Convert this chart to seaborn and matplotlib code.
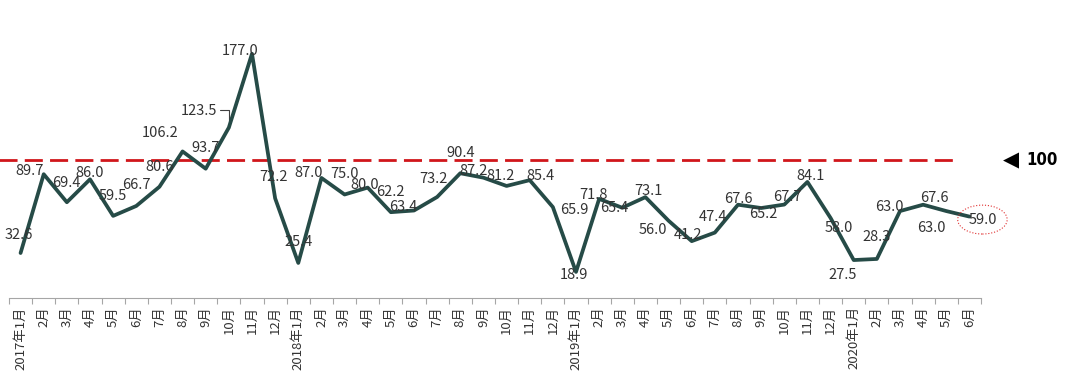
import matplotlib
matplotlib.use("Agg")
import matplotlib.pyplot as plt
import seaborn as sns
import pandas as pd
import numpy as np

# ---- data ----
months = ["2017年1月", "2月", "3月", "4月", "5月", "6月", "7月", "8月", "9月", "10月", "11月", "12月",
          "2018年1月", "2月", "3月", "4月", "5月", "6月", "7月", "8月", "9月", "10月", "11月", "12月",
          "2019年1月", "2月", "3月", "4月", "5月", "6月", "7月", "8月", "9月", "10月", "11月", "12月",
          "2020年1月", "2月", "3月", "4月", "5月", "6月"]
values = [32.6, 89.7, 69.4, 86.0, 59.5, 66.7, 80.6, 106.2, 93.7, 123.5, 177.0, 72.2,
          25.4, 87.0, 75.0, 80.0, 62.2, 63.4, 73.2, 90.4, 87.2, 81.2, 85.4, 65.9,
          18.9, 71.8, 65.4, 73.1, 56.0, 41.2, 47.4, 67.6, 65.2, 67.7, 84.1, 58.0,
          27.5, 28.3, 63.0, 67.6, 63.0, 59.0]
reference_level = 100
reference_label = "100"

# label offsets in pixels (dx, dy with image-down positive)
label_offsets = [(-2, -18), (-14, -3), (0, -19), (0, -6), (0, -20), (0, -21), (0, -20), (-22, -18),
                 (0, -21), (-30, -17), (-12, -3), (-2, -21), (0, -21), (-13, -5), (0, -21), (-3, -3),
                 (0, -20), (-11, -4), (-4, -18), (0, -20), (-10, -7), (-6, -10), (11, -4), (21, 3),
                 (-2, 3), (-6, -4), (-8, 0), (3, -6), (-16, 9), (-4, -6), (-2, -16), (0, -6),
                 (2, 6), (3, -8), (3, -6), (8, 10), (-11, 15), (0, -22), (-11, -4), (11, -7),
                 (-15, 17), (13, 3)]

sns.set_style("white")
plt.rcParams['font.family'] = ['Noto Sans CJK SC', 'DejaVu Sans']

df = pd.DataFrame({"idx": np.arange(len(values)), "value": values})

fig = plt.figure(figsize=(10.8, 3.78), dpi=100)
left = 9 / 1080
right = 981 / 1080
bottom = (378 - 298) / 378
top = (378 - 22) / 378
ax = fig.add_axes([left, bottom, right - left, top - bottom])

line_color = "#264B47"
sns.lineplot(data=df, x="idx", y="value", ax=ax, color=line_color, linewidth=2.7, zorder=3)

ax.set_xlim(-0.5, len(values) - 0.5)
ax.set_ylim(0, 200)

# reference dashed line
ax.plot([-0.012, 0.975], [reference_level, reference_level], transform=ax.get_yaxis_transform(),
        color="#D0161B", linewidth=2.0, dashes=(6.5, 2.6), clip_on=False, zorder=2)
ax.text(1.023, reference_level, "◀", transform=ax.get_yaxis_transform(), ha="left", va="center",
        fontsize=15, color="black", family=["DejaVu Sans"])
ax.text(1.047, reference_level, reference_label, transform=ax.get_yaxis_transform(), ha="left",
        va="center", fontsize=12, fontweight="bold", fontstretch="condensed", color="black",
        family=["DejaVu Sans"])

# data labels
for i, (v, (dx, dy)) in enumerate(zip(values, label_offsets)):
    kw = dict(textcoords="offset pixels", ha="center", va="center", fontsize=10.5, color="#333333",
              zorder=4)
    if i == len(values) - 1:
        ax.annotate(f"{v:.1f}", xy=(i, v), xytext=(dx, -dy), **kw,
                    bbox=dict(boxstyle="ellipse,pad=0.22", fc="none", ec="#E03030",
                              ls=":", lw=0.8))
    else:
        ax.annotate(f"{v:.1f}", xy=(i, v), xytext=(dx, -dy), **kw)

# leader line for the 123.5 label (computed in pixel space)
li = 9
px, py = ax.transData.transform((li, values[li]))
pts_disp = np.array([[px - 9, py + 18], [px, py + 18], [px, py]])
pts_data = ax.transData.inverted().transform(pts_disp)
ax.plot(pts_data[:, 0], pts_data[:, 1], color="#404040", lw=0.8, zorder=2)

# axes styling
for s in ["top", "right", "left"]:
    ax.spines[s].set_visible(False)
ax.spines["bottom"].set_color("#A6A6A6")
ax.spines["bottom"].set_linewidth(0.8)
ax.set_yticks([])
ax.set_xticks(np.arange(len(months)))
ax.set_xticklabels(months, rotation=90, fontsize=9.5, color="#333333", va="top", ha="center")
ax.set_xticks(np.arange(len(months) + 1) - 0.5, minor=True)
ax.tick_params(axis="x", which="major", length=0, pad=6, bottom=True)
ax.tick_params(axis="x", which="minor", length=4, color="#A6A6A6", width=0.8, direction="out",
               bottom=True)
ax.set_xlabel("")
ax.set_ylabel("")

fig.savefig("out.png", dpi=100)
